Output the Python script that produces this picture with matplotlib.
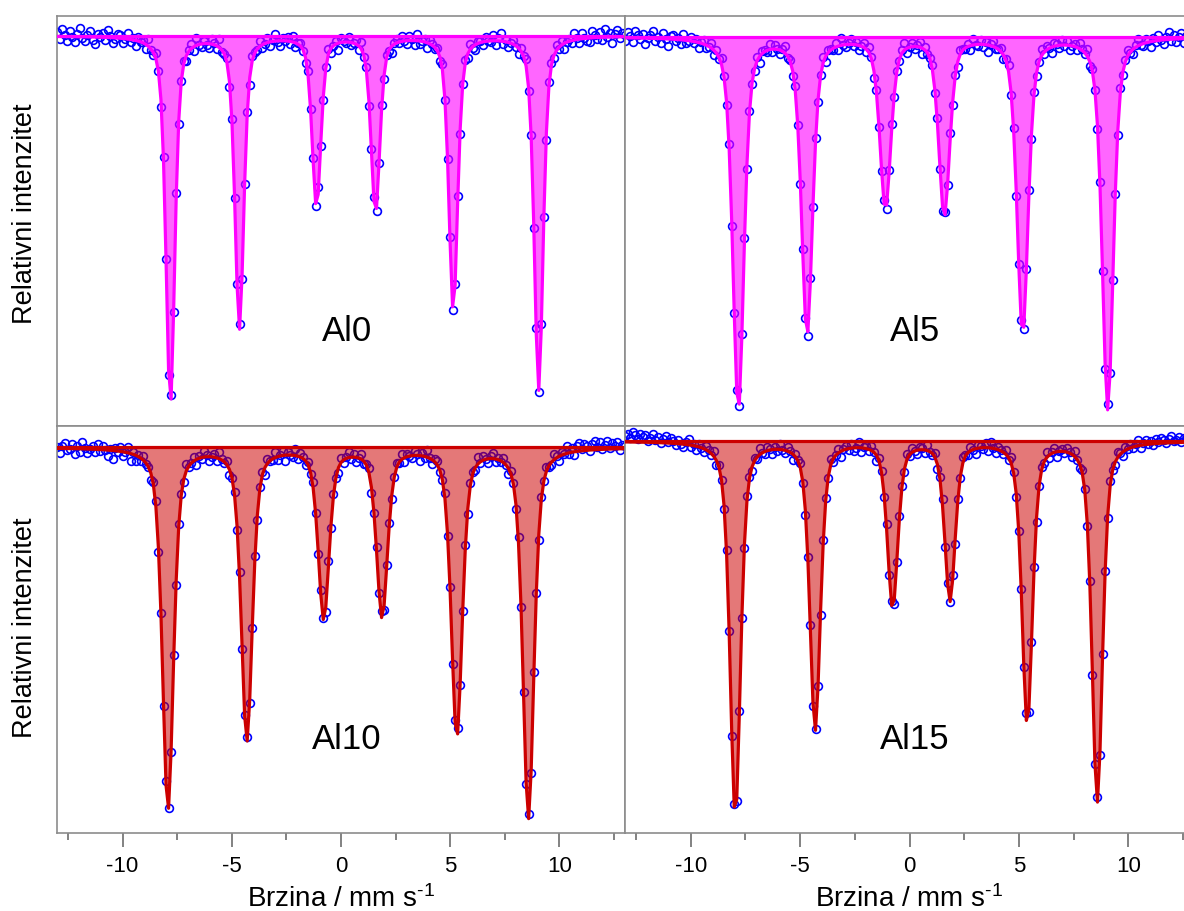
import numpy as np
import matplotlib
matplotlib.use("Agg")
from matplotlib import pyplot as plt
from matplotlib.ticker import MultipleLocator

plt.rcParams['font.family'] = ['Liberation Sans', 'DejaVu Sans']
plt.rcParams['axes.unicode_minus'] = False
plt.rcParams['mathtext.default'] = 'regular'

# --- fitted sextets (velocity in mm/s, depth in % of baseline)
names = ['Al0', 'Al5', 'Al10', 'Al15']
line_positions = [
    [-7.81, -4.65, -1.12, 1.58, 5.14, 9.05],
    [-7.82, -4.68, -1.10, 1.59, 5.17, 9.06],
    [-7.92, -4.31, -0.79, 1.88, 5.30, 8.58],
    [-7.96, -4.31, -0.77, 1.85, 5.38, 8.58],
]
line_depths = [
    [18.4, 14.6, 8.5, 8.8, 13.7, 17.7],
    [18.6, 14.8, 8.5, 8.85, 14.8, 18.6],
    [18.1, 14.6, 8.5, 8.4, 14.4, 18.5],
    [18.7, 14.4, 8.25, 7.9, 14.1, 18.0],
]
line_widths = [0.48, 0.60, 0.60, 0.57]
line_eta = [0.5, 0.5, 0.5, 0.5]

# measured minus fit, in units of 0.07 %
resid_al0 = [3, -2, 5, 1, -3, 4, 0, -4, 2, 6, -1, -3, 1, 4, -2,
             -5, 2, 0, 3, -2, 5, 1, -4, -1, 3, 2, -3, 0, 4, -2,
             1, -4, 3, 0, 2, -3, 5, -1, -2, 4, 0, -5, 2, 1, -3,
             3, -1, 4, -2, 0, 2, -4, 1, 3, -3, 5, 0, -2, 2, -1,
             -3, 4, 1, -2, 6, -1, 0, 3, -4, 2, -2, 1, 4, -3, 0,
             2, -5, 3, 1, -1, 4, -2, 0, 3, -3, 1, 5, -1, -4, 2,
             0, 3, -2, 4, -3, 1, 2, -1, -4, 3, 0, 2, -2, 5, -1,
             -2, 1, 4, -3, 0, 2, -5, 3, 1, -1, 4, -2, 0, 3, -3,
             5, -1, 2, -4, 1, 3, -2, 0, 4, -3, 2, -1, -5, 1, 3,
             -1, 4, 0, -2, 3, 1, -3, 5, -2, 0, 2, -4, 3, 1, -1,
             2, -3, 4, 0, -1, 3, -2, 1, 5, -4, 0, 2, -3, 4, -1,
             -4, 2, 1, -2, 3, 0, -1, 4, -3, 2, 6, -2, 1, -3, 0,
             3, -1, -4, 2, 0, 5, -2, 1, -3, 4, -1, 2, 0, -5, 3,
             1, -2, 4, -1, 3, -4, 0, 2, -2, 5, 1, -3, 4, 0, -2,
             -3, 5, 2, -1, 4, -2, 6, 0, 3, -4, 2, 5, -1, 3, 1]
resid_al5 = [-2, 4, 1, -3, 5, 2, -1, 3, -4, 0, 2, 5, -2, 1, -3,
             4, 0, -5, 2, 3, -1, 1, -3, 4, -2, 0, 3, -1, 2, -4,
             1, 3, -2, 0, 4, -3, 2, -1, 5, 1, -2, 3, -4, 0, 2,
             -1, 2, 4, -3, 1, 0, -2, 3, -5, 2, 1, -1, 4, -2, 3,
             0, -3, 2, 5, -1, 1, -4, 3, 0, -2, 4, 1, -3, 2, -1,
             3, -2, 0, 4, -4, 2, 1, -1, 3, -3, 5, 0, -2, 1, 4,
             -1, 2, -3, 0, 3, -2, 4, 1, -5, 2, 0, -1, 3, -3, 1,
             4, -2, 1, -1, 2, 5, -3, 0, 3, -2, 1, 4, -4, 2, -1,
             0, 3, -2, 4, -1, -3, 2, 0, 5, -2, 1, -4, 3, 1, -1,
             2, -3, 4, 0, -1, 3, -2, 2, -5, 1, 4, -1, 0, 3, -3,
             1, 5, -2, 2, -4, 0, 3, -1, 1, 4, -3, 2, -2, 0, 5,
             -1, 3, 0, -4, 2, 1, -2, 4, -1, 3, -3, 0, 2, -2, 4,
             1, -1, 5, -3, 2, 0, -2, 3, 1, -4, 4, -1, 2, 0, -3,
             3, -2, 1, 4, -1, -3, 2, 5, 0, -2, 3, 1, -4, 2, -1,
             4, 0, -3, 2, 5, -1, 3, -2, 1, 4, -3, 2, 6, 0, 3]
resid_al10 = [1, -3, 2, 4, -1, 0, 3, -4, 2, -2, 5, 1, -3, 0, 2,
              -2, 4, -1, 3, 0, -4, 1, -6, 2, -1, 3, -3, 0, 4, -5,
              2, -4, 1, -2, 3, -1, 0, -5, 2, 4, -3, 1, -2, 3, 0,
              -1, 4, -3, 2, 1, -2, 5, -1, 0, 3, -4, 2, -1, 4, 1,
              -3, 0, 2, -2, 5, 1, -1, 3, -4, 0, 2, -3, 4, -1, 1,
              3, -2, 0, 4, -3, 1, 2, -5, 3, 0, -1, 4, -2, 1, 3,
              -4, 2, 0, -1, 5, -2, 3, 1, -3, 2, -1, 4, 0, -2, 3,
              1, -3, 5, -1, 2, 0, -4, 3, -2, 1, 4, -1, 2, -3, 0,
              4, -2, 1, 3, -4, 0, 2, -1, 5, -3, 1, 2, -2, 0, 3,
              -1, 4, -3, 2, 0, -2, 3, 1, -4, 2, -1, 5, 0, -3, 2,
              3, -1, 0, 4, -2, 1, -3, 2, 4, -1, 0, 3, -4, 2, 1,
              -2, 5, -1, 3, 0, -3, 2, 4, -2, 1, -1, 3, 0, -4, 2,
              1, -3, 4, 0, 2, -1, 3, -2, 5, 1, -4, 2, 0, 3, -1,
              -2, 4, 1, -3, 2, 0, 5, -1, 3, -2, 4, 6, 1, 5, 3,
              -1, 4, 6, 2, 5, 0, 3, 6, 1, 4, 2, 5, -1, 3, 2]
resid_al15 = [4, 6, 3, 7, 5, 2, 6, 4, 5, 1, 3, 6, 2, 4, 0,
              3, 5, 1, 4, 2, -1, 3, 0, -2, 2, 4, -1, 1, -3, 2,
              0, -2, 3, 1, -1, 4, -3, 2, 0, -2, 3, 1, -4, 2, -1,
              3, 0, -2, 4, 1, -3, 2, -1, 5, 0, -2, 3, 1, -3, 2,
              -1, 4, 0, -2, 3, 1, -4, 2, 0, 3, -1, -3, 2, 4, -2,
              1, 0, -3, 3, 2, -1, 4, -2, 0, 3, -4, 1, 2, -1, 3,
              -2, 0, 4, -3, 1, 2, -1, 3, 0, -4, 2, 1, -2, 4, -1,
              3, -3, 0, 2, 1, -2, 4, -1, 3, 0, -3, 2, 1, -2, 4,
              0, -1, 3, -3, 2, 5, -2, 1, 0, 3, -4, 2, -1, 4, 1,
              -2, 3, 0, -4, 2, 1, -1, 3, -2, 4, 0, -3, 2, 1, -1,
              3, -2, 4, 1, -3, 0, 2, -1, 5, -2, 1, 3, -3, 0, 2,
              -1, 4, -2, 1, 3, -4, 0, 2, -1, 3, 1, -2, 4, 0, -3,
              2, 1, -1, 3, -2, 0, 4, -3, 2, 1, -1, 3, 0, -2, 4,
              1, -3, 2, 0, 3, -1, 2, 4, -2, 1, 3, 0, 2, -1, 3,
              1, 4, 2, 0, 3, 5, 1, 2, 4, 0, 3, 2, 5, 1, 3]
residuals = [resid_al0, resid_al5, resid_al10, resid_al15]

V_RANGE = (-13.0, 13.0)
RESID_UNIT = 0.07


def pseudo_voigt(v, pos, depth, fwhm, eta):
    x = 2 * (v - pos) / fwhm
    return depth * (eta / (1 + x ** 2) + (1 - eta) * np.exp(-np.log(2) * x ** 2))


def sextet(v, positions, depths, fwhm, eta):
    absorb = np.zeros_like(v)
    for p, d in zip(positions, depths):
        absorb += pseudo_voigt(v, p, d, fwhm, eta)
    return 100 - absorb


W, H = 1184, 912
fig = plt.figure(figsize=(W / 100, H / 100), dpi=100)

# panel boxes in pixels: (left, top, right, bottom)
boxes = [(57, 17, 625, 427), (625, 17, 1194, 427),
         (57, 427, 625, 834), (625, 427, 1194, 834)]
ylims = [(80.49, 100.99), (80.54, 101.04), (80.72, 101.07), (80.40, 100.75)]
line_cols = ['#ff00ff', '#ff00ff', '#cc0000', '#cc0000']
fill_alpha = [0.6, 0.6, 0.53, 0.53]
spine_col = '#8c8c8c'

for i, name in enumerate(names):
    l, t, r, b = boxes[i]
    ax = fig.add_axes([l / W, 1 - b / H, (r - l) / W, (b - t) / H])

    v = np.linspace(V_RANGE[0], V_RANGE[1], len(residuals[i]))
    fit = sextet(v, line_positions[i], line_depths[i], line_widths[i], line_eta[i])
    data = fit + np.array(residuals[i]) * RESID_UNIT

    ax.plot(v, data, 'o', ms=5.6, mfc='none', mec='#0000ff', mew=1.2, zorder=2)
    ax.fill_between(v, fit, 100, color=line_cols[i], alpha=fill_alpha[i], lw=0, zorder=3)
    ax.plot(v, fit, color=line_cols[i], lw=2.3, zorder=4)
    ax.axhline(100, color=line_cols[i], lw=2.3, zorder=4)

    ax.set_xlim(*V_RANGE)
    ax.set_ylim(*ylims[i])
    ax.set_yticks([])
    ax.xaxis.set_major_locator(MultipleLocator(5))
    ax.xaxis.set_minor_locator(MultipleLocator(2.5))
    ax.tick_params(axis='x', which='major', direction='out', length=10, width=1.1,
                   color='#606060', labelsize=16, pad=6)
    ax.tick_params(axis='x', which='minor', direction='out', length=5, width=1.1,
                   color='#606060')
    if i < 2:
        ax.tick_params(axis='x', labelbottom=False)
    for s in ax.spines.values():
        s.set_color(spine_col)
        s.set_linewidth(1.2)

    ax.text(0.51, 0.232, name, transform=ax.transAxes, ha='center', va='center',
            fontsize=25)

    if i >= 2:
        ax.set_xlabel('Brzina / mm s$^{\u2010 1}$', fontsize=20, labelpad=6)

fig.text(0.0215, 1 - 214 / H, 'Relativni intenzitet', rotation=90,
         ha='center', va='center', fontsize=19.5)
fig.text(0.0215, 1 - 628 / H, 'Relativni intenzitet', rotation=90,
         ha='center', va='center', fontsize=19.5)

fig.savefig('out.png', dpi=100)
